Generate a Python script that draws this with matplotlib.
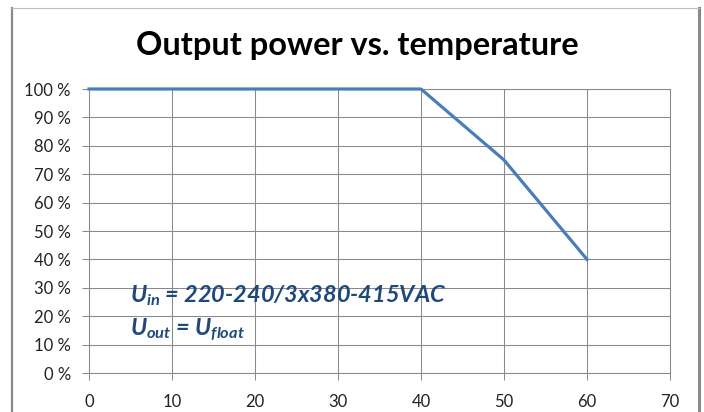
import matplotlib
matplotlib.use("Agg")
import matplotlib.pyplot as plt
from matplotlib.lines import Line2D

# derating curve
temps = [0, 40, 50, 60]
power = [100, 100, 75, 40]

x_ticks = [0, 10, 20, 30, 40, 50, 60, 70]
y_ticks = [0, 10, 20, 30, 40, 50, 60, 70, 80, 90, 100]
y_labels = ["%d %%" % v for v in y_ticks]

title = "Output power vs. temperature"
note_1 = r"$U_{in}$ = 220-240/3x380-415VAC"
note_2 = r"$U_{out}$ = $U_{float}$"

plt.rcParams["font.family"] = ["Lato", "DejaVu Sans"]
plt.rcParams["mathtext.fontset"] = "custom"
plt.rcParams["mathtext.it"] = "Lato:italic:bold"
plt.rcParams["mathtext.rm"] = "Lato:bold"

W, H = 704, 412
fig = plt.figure(figsize=(W / 100, H / 100), dpi=100)
fig.patch.set_facecolor("white")

# chart frame
fig.add_artist(Line2D([12 / W, 12 / W], [0, 1 - 8 / H], color="#8a8a8a", lw=1.6))
fig.add_artist(Line2D([699 / W, 699 / W], [0, 1 - 8 / H], color="#8a8a8a", lw=2.2))
fig.add_artist(Line2D([12 / W, 699 / W], [1 - 8 / H, 1 - 8 / H], color="#bdbdbd", lw=0.8))

ax = fig.add_axes([89 / W, 1 - 373 / H, (670 - 89) / W, (373 - 89) / H])

grid_col = "#898989"
ax.plot(temps, power, color="#4A7EBB", lw=2.3, solid_joinstyle="round", zorder=3, clip_on=False)

ax.set_xlim(0, 70)
ax.set_ylim(0, 100)
ax.set_xticks(x_ticks)
ax.set_yticks(y_ticks)
ax.set_yticklabels(y_labels)
ax.grid(True, color=grid_col, lw=0.75)
ax.set_axisbelow(True)
for s in ax.spines.values():
    s.set_color(grid_col)
    s.set_linewidth(0.75)
ax.tick_params(axis="both", colors=grid_col, width=0.75, length=5,
               labelsize=12, labelcolor="#222222")
ax.tick_params(axis="y", pad=8)
ax.tick_params(axis="x", pad=10)

fig.text(357 / W, 1 - 45 / H, title, ha="center", va="center",
         fontsize=23.4, fontweight="bold", color="black")

ax.text(130 / W, 1 - 302 / H, note_1, transform=fig.transFigure,
        fontsize=16.9, fontweight="bold", fontstyle="italic", color="#1F497D")
ax.text(130 / W, 1 - 335 / H, note_2, transform=fig.transFigure,
        fontsize=16.9, fontweight="bold", fontstyle="italic", color="#1F497D")

fig.savefig("out.png", dpi=100)
